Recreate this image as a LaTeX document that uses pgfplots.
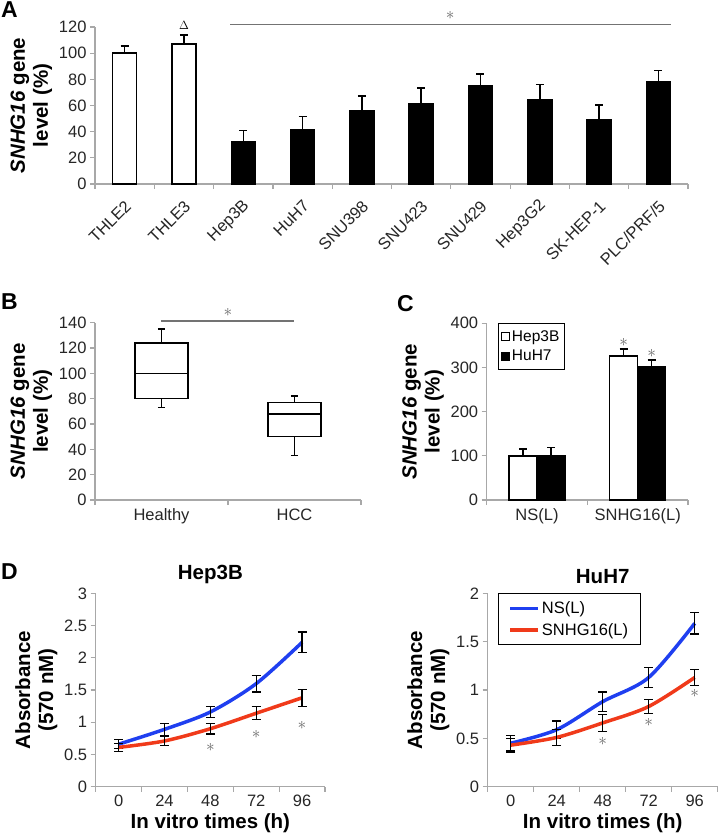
\documentclass[border=0pt]{standalone}
\usepackage{fontspec}
\setmainfont{Liberation Sans}
\usepackage{pgfplots}
\pgfplotsset{compat=1.18}
\definecolor{nsblue}{HTML}{1F3FF0}
\definecolor{shred}{HTML}{F03A1A}
\definecolor{axgray}{HTML}{A8A8A8}

\newcommand{\tickfont}{\fontsize{16.5}{18}\selectfont}
\newcommand{\labfont}{\fontsize{20.5}{23}\selectfont\bfseries}
\newcommand{\sig}{{\fontsize{17}{17}\selectfont\color{black!60}$\ast$}}

\pgfplotsset{
  panel/.style={
    scale only axis, clip=false,
    axis x line*=bottom, axis y line*=left,
    axis line style={axgray, line width=1.2pt},
    tick style={axgray, line width=1.2pt},
    tick align=outside, major tick length=5pt, minor tick length=5pt,
    major x tick style={draw=none},
    minor x tick style={axgray, line width=1.2pt},
    tick label style={font=\tickfont, text=black!85},
    /pgf/number format/assume math mode=true,
    label style={font=\labfont},
    ylabel style={align=center},
    title style={font=\labfont},
    ymin=0,
  },
  errs/.style={
    error bars/y dir=both, error bars/y explicit,
    error bars/error bar style={line width=1.3pt, black},
    error bars/error mark options={rotate=90, mark size=4.5pt, line width=1.3pt, black},
  },
  uperrs/.style={
    error bars/y dir=plus, error bars/y explicit,
    error bars/error bar style={line width=1.5pt, black},
    error bars/error mark options={rotate=90, mark size=4pt, line width=1.5pt, black},
  },
  boxln/.style={draw=black, line width=1.5pt, forget plot},
}

\begin{document}
\begin{tikzpicture}
\path[use as bounding box] (0pt,0pt) rectangle (718pt,-839pt);

% panel letters
\node[anchor=north west, inner sep=0pt, font=\fontsize{23}{23}\selectfont\bfseries] at (1pt,-1pt) {A};
\node[anchor=north west, inner sep=0pt, font=\fontsize{23}{23}\selectfont\bfseries] at (1pt,-293pt) {B};
\node[anchor=north west, inner sep=0pt, font=\fontsize{23}{23}\selectfont\bfseries] at (397pt,-295pt) {C};
\node[anchor=north west, inner sep=0pt, font=\fontsize{23}{23}\selectfont\bfseries] at (1pt,-563pt) {D};

% ---- A ----
\begin{axis}[panel, at={(95pt,-184pt)}, anchor=south west,
  width=593pt, height=157pt,
  xmin=-0.5, xmax=9.5, ymax=120, ytick={0,20,...,120},
  xtick={0,...,9},
  xticklabels={THLE2,THLE3,Hep3B,HuH7,SNU398,SNU423,SNU429,Hep3G2,SK-HEP-1,PLC/PRF/5},
  minor xtick={-0.5,0.5,1.5,2.5,3.5,4.5,5.5,6.5,7.5,8.5,9.5},
  xticklabel style={xshift=6pt, yshift=-12pt, rotate=45, anchor=east},
  ylabel={\textit{SNHG16} gene\\level (\%)},
  ybar, bar width=24pt]
\addplot[bar shift=0pt, fill=white, draw=black, line width=1.5pt, uperrs]
  coordinates {(0,100) +- (0,5.5) (1,107) +- (0,7)};
\addplot[bar shift=0pt, fill=black, draw=black, line width=1.5pt, uperrs]
  coordinates {(2,32.3) +- (0,8.7) (3,41.3) +- (0,10.4) (4,55.8) +- (0,11.5)
    (5,61.7) +- (0,11.5) (6,75.2) +- (0,8.7) (7,64.7) +- (0,11.2)
    (8,49.2) +- (0,11.2) (9,78.2) +- (0,8.7)};
\draw[black!55, line width=1.2pt] (axis cs:1.78,122) -- (axis cs:9.21,122);
\node at (axis cs:5.49,128.5) {\sig};
\node at (axis cs:1,121.5) {\fontsize{12}{12}\selectfont$\Delta$};
\end{axis}

% ---- B ----
\begin{axis}[panel, at={(95pt,-500pt)}, anchor=south west,
  width=266pt, height=177.3pt,
  xmin=0.5, xmax=2.5, ymax=140, ytick={0,20,...,140},
  xtick={1,2}, xticklabels={Healthy,HCC},
  minor xtick={0.5,1.5,2.5},
  ylabel={\textit{SNHG16} gene\\level (\%)}]
% Healthy: whiskers 73-135, quartiles 80-124, median 100
\addplot[boxln] coordinates {(1,124) (1,135)};
\addplot[boxln] coordinates {(0.972,135) (1.028,135)};
\addplot[boxln] coordinates {(1,80) (1,73)};
\addplot[boxln] coordinates {(0.972,73) (1.028,73)};
\addplot[boxln, fill=white] coordinates {(0.8,80) (1.2,80) (1.2,124) (0.8,124) (0.8,80)} -- cycle;
\addplot[boxln] coordinates {(0.8,100) (1.2,100)};
% HCC: whiskers 35-82, quartiles 50-77, median 68
\addplot[boxln] coordinates {(2,77) (2,82)};
\addplot[boxln] coordinates {(1.972,82) (2.028,82)};
\addplot[boxln] coordinates {(2,50) (2,35)};
\addplot[boxln] coordinates {(1.972,35) (2.028,35)};
\addplot[boxln, fill=white] coordinates {(1.8,50) (2.2,50) (2.2,77) (1.8,77) (1.8,50)} -- cycle;
\addplot[boxln] coordinates {(1.8,68) (2.2,68)};
\draw[black!55, line width=1.2pt] (axis cs:1,141.3) -- (axis cs:2,141.3);
\node at (axis cs:1.5,148) {\sig};
\end{axis}

% ---- C ----
\begin{axis}[panel, at={(486.7pt,-500pt)}, anchor=south west,
  width=201.3pt, height=176.7pt,
  xmin=0.5, xmax=2.5, ymax=400, ytick={0,100,...,400},
  xtick={1,2}, xticklabels={NS(L),SNHG16(L)},
  minor xtick={0.5,1.5,2.5},
  ylabel={\textit{SNHG16} gene\\level (\%)},
  ybar=0pt, bar width=28pt,
  legend style={at={(rel axis cs:0.055,1)}, anchor=north west, draw=black,
    line width=0.8pt, font=\fontsize{15.5}{17}\selectfont,
    inner xsep=3pt, inner ysep=5pt, row sep=3pt},
  legend cell align=left]
\addplot[fill=white, draw=black, line width=1.5pt, uperrs,
  legend image code/.code={\draw[fill=white,draw=black,line width=0.8pt] (2pt,-4pt) rectangle (10pt,4pt);}]
  coordinates {(1,100) +- (0,16) (2,326) +- (0,16)};
\addplot[fill=black, draw=black, line width=1.5pt, uperrs,
  legend image code/.code={\draw[fill=black,draw=black,line width=0.8pt] (2pt,-4pt) rectangle (10pt,4pt);}]
  coordinates {(1,100) +- (0,19) (2,301) +- (0,16)};
\legend{Hep3B,HuH7}
\node[xshift=-14pt] at (axis cs:2,356) {\sig};
\node[xshift=14pt] at (axis cs:2,332) {\sig};
\end{axis}

% ---- D left ----
\begin{axis}[panel, at={(95.7pt,-786.7pt)}, anchor=south west,
  width=229.3pt, height=193.3pt,
  xmin=-0.5, xmax=4.5, ymax=3, ytick={0,0.5,...,3},
  yticklabel style={/pgf/number format/fixed},
  xtick={0,...,4}, xticklabels={0,24,48,72,96},
  minor xtick={-0.5,0.5,1.5,2.5,3.5,4.5},
  title={Hep3B},
  xlabel={In vitro times (h)},
  ylabel={Absorbance\\(570 nM)}]
\addplot[nsblue, line width=3.5pt, smooth, errs]
  coordinates {(0,0.66) +- (0,0.07) (1,0.89) +- (0,0.09) (2,1.16) +- (0,0.09)
    (3,1.60) +- (0,0.13) (4,2.24) +- (0,0.16)};
\addplot[shred, line width=3.5pt, smooth, errs]
  coordinates {(0,0.61) +- (0,0.06) (1,0.71) +- (0,0.07) (2,0.90) +- (0,0.08)
    (3,1.14) +- (0,0.10) (4,1.38) +- (0,0.13)};
\node at (axis cs:2,0.61) {\sig};
\node at (axis cs:3,0.81) {\sig};
\node at (axis cs:4,0.95) {\sig};
\end{axis}

% ---- D right ----
\begin{axis}[panel, at={(487.7pt,-786.7pt)}, anchor=south west,
  width=230pt, height=193.3pt,
  xmin=-0.5, xmax=4.5, ymax=2, ytick={0,0.5,...,2},
  yticklabel style={/pgf/number format/fixed},
  xtick={0,...,4}, xticklabels={0,24,48,72,96},
  minor xtick={-0.5,0.5,1.5,2.5,3.5,4.5},
  title={HuH7},
  xlabel={In vitro times (h)},
  ylabel={Absorbance\\(570 nM)},
  legend style={at={(rel axis cs:0.045,1)}, anchor=north west, draw=black,
    line width=0.8pt, font=\fontsize{16.5}{19}\selectfont,
    inner xsep=10pt, inner ysep=6pt, row sep=4pt},
  legend cell align=left]
\addplot[nsblue, line width=3.5pt, smooth, errs,
  legend image code/.code={\draw[nsblue,line width=3.5pt] (0pt,0pt) -- (28pt,0pt);}]
  coordinates {(0,0.45) +- (0,0.08) (1,0.59) +- (0,0.09) (2,0.88) +- (0,0.10)
    (3,1.13) +- (0,0.10) (4,1.69) +- (0,0.11)};
\addplot[shred, line width=3.5pt, smooth, errs,
  legend image code/.code={\draw[shred,line width=3.5pt] (0pt,0pt) -- (28pt,0pt);}]
  coordinates {(0,0.43) +- (0,0.07) (1,0.51) +- (0,0.08) (2,0.66) +- (0,0.09)
    (3,0.83) +- (0,0.07) (4,1.13) +- (0,0.08)};
\legend{NS(L),SNHG16(L)}
\node at (axis cs:2,0.47) {\sig};
\node at (axis cs:3,0.66) {\sig};
\node at (axis cs:4,0.96) {\sig};
\end{axis}
\end{tikzpicture}
\end{document}
